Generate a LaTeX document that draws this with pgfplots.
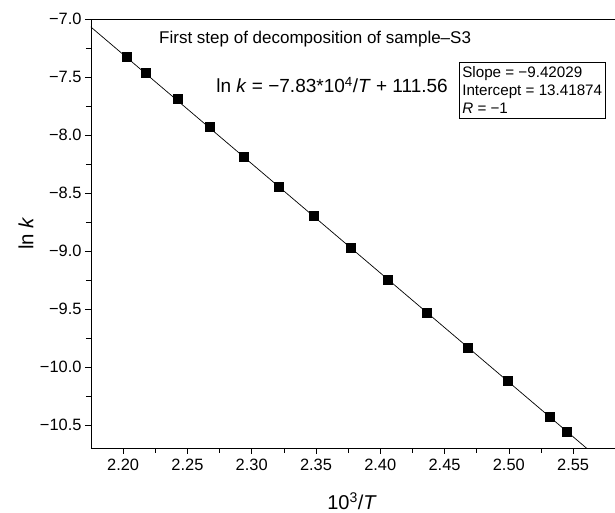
\documentclass[border=0pt]{standalone}
\usepackage{pgfplots}
\pgfplotsset{compat=1.18}
\usepackage{fontspec}
\setmainfont{Liberation Sans}
\begin{document}
\begin{tikzpicture}
\useasboundingbox (-91pt,-65pt) rectangle (524pt,448pt);
\begin{axis}[
  at={(0pt,0pt)}, anchor=south west,
  scale only axis, width=524pt, height=429pt,
  xmin=2.175, xmax=2.5826, ymin=-10.70, ymax=-7.0,
  axis lines=left, axis line style={-, line width=0.6pt},
  tick align=outside, major tick length=6pt, minor tick length=5pt,
  tick style={line width=0.6pt, black},
  xtick={2.20,2.25,2.30,2.35,2.40,2.45,2.50,2.55},
  xticklabels={2.20,2.25,2.30,2.35,2.40,2.45,2.50,2.55},
  ytick={-10.5,-10.0,-9.5,-9.0,-8.5,-8.0,-7.5,-7.0},
  yticklabels={−10.5,−10.0,−9.5,−9.0,−8.5,−8.0,−7.5,−7.0},
  minor x tick num=1, minor y tick num=1,
  every tick label/.append style={font=\fontsize{16.4}{19}\selectfont},
  xticklabel style={yshift=-2pt},
  clip=true,
]
\addplot[black, line width=0.7pt] coordinates {(2.17,-7.0230) (2.57,-10.7914)};
\addplot[only marks, mark=square*, mark size=4.5pt, black] coordinates {
(2.2028,-7.328) (2.2179,-7.466) (2.2423,-7.690) (2.2673,-7.930)
(2.294,-8.191) (2.321,-8.446) (2.348,-8.700) (2.377,-8.974)
(2.406,-9.247) (2.436,-9.529) (2.468,-9.831) (2.499,-10.123)
(2.532,-10.434) (2.545,-10.556)};
\draw[line width=0.6pt] (rel axis cs:0,1) -- (rel axis cs:1,1);
\end{axis}
\node[anchor=west, inner sep=0pt, font=\fontsize{17}{20}\selectfont] at (68pt,409pt) {First step of decomposition of sample–S3};
\node[anchor=east, inner sep=0pt, font=\fontsize{19}{22}\selectfont] at (357pt,363pt) {ln \textit{k} = −7.83*10\textsuperscript{4}/\textit{T} + 111.56};
\node[draw, line width=0.6pt, anchor=north west, align=left, inner xsep=3pt, inner ysep=4.5pt, font=\fontsize{15.2}{18}\selectfont] at (368pt,386pt) {Slope = −9.42029\\Intercept = 13.41874\\\textit{R} = −1};
\node[anchor=base, font=\fontsize{20}{23}\selectfont] at (261pt,-62pt) {10\textsuperscript{3}/\textit{T}};
\node[rotate=90, font=\fontsize{20.5}{23}\selectfont] at (-65pt,214.5pt) {ln \textit{k}};
\end{tikzpicture}
\end{document}
